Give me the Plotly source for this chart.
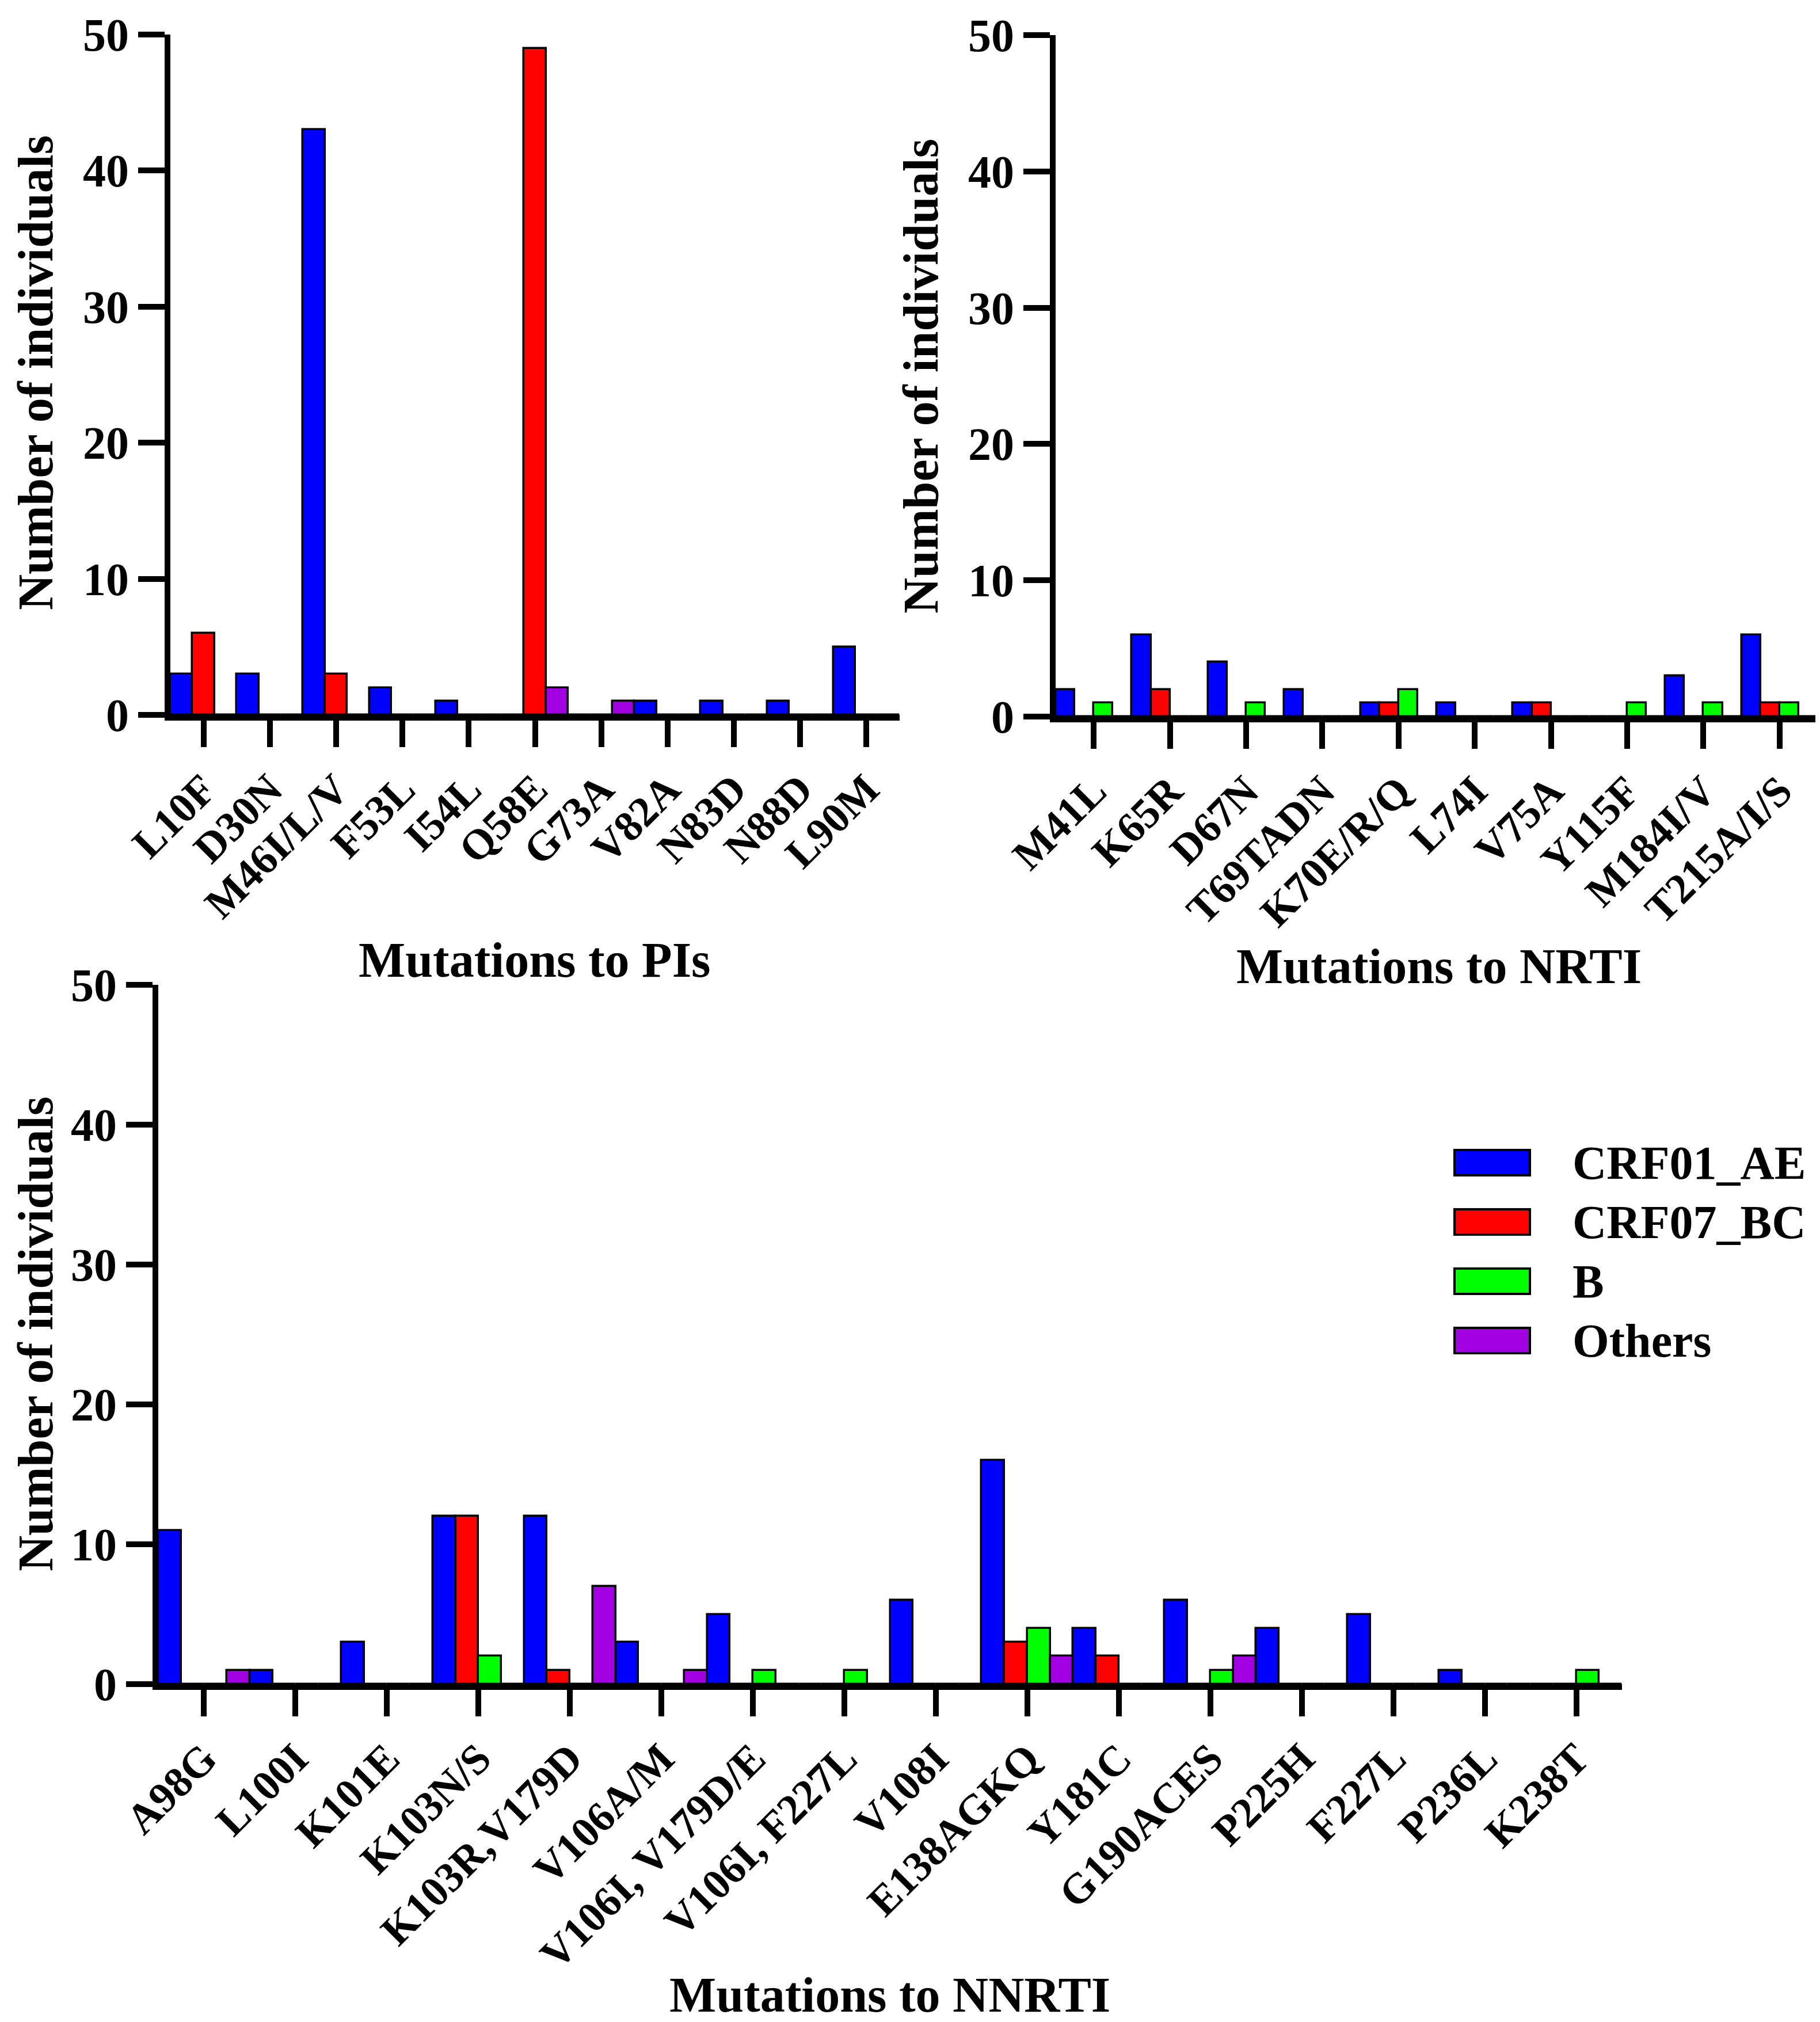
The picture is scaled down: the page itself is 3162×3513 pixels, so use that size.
import plotly.graph_objects as go

W, H = 3162, 3513
FONT = "Liberation Serif, Times New Roman, serif"

subtypes = ['CRF01_AE', 'CRF07_BC', 'B', 'Others']
colors = ['#0000FF', '#FF0000', '#00FF00', '#A100E0']

# Mutations to PIs
pi_mut = ['L10F', 'D30N', 'M46I/L/V', 'F53L', 'I54L', 'Q58E', 'G73A', 'V82A', 'N83D', 'N88D', 'L90M']
pi_crf01 = [3, 3, 43, 2, 1, 0, 0, 1, 1, 1, 5]
pi_crf07 = [6, 0, 3, 0, 0, 49, 0, 0, 0, 0, 0]
pi_others = [0, 0, 0, 0, 0, 2, 1, 0, 0, 0, 0]

# Mutations to NRTI
nrti_mut = ['M41L', 'K65R', 'D67N', 'T69TADN', 'K70E/R/Q', 'L74I', 'V75A', 'Y115F', 'M184I/V', 'T215A/I/S']
nrti_crf01 = [2, 6, 4, 2, 1, 1, 1, 0, 3, 6]
nrti_crf07 = [0, 2, 0, 0, 1, 0, 1, 0, 0, 1]
nrti_b = [1, 0, 1, 0, 2, 0, 0, 1, 1, 1]
nrti_others = [0, 0, 0, 0, 0, 0, 0, 0, 0, 0]

# Mutations to NNRTI
nnrti_mut = ['A98G', 'L100I', 'K101E', 'K103N/S', 'K103R,V179D', 'V106A/M', 'V106I, V179D/E',
             'V106I, F227L', 'V108I', 'E138AGKQ', 'Y181C', 'G190ACES', 'P225H', 'F227L', 'P236L', 'K238T']
nnrti_crf01 = [11, 1, 3, 12, 12, 3, 5, 0, 6, 16, 4, 6, 4, 5, 1, 0]
nnrti_crf07 = [0, 0, 0, 12, 1, 0, 0, 0, 0, 3, 2, 0, 0, 0, 0, 0]
nnrti_b = [0, 0, 0, 2, 0, 0, 1, 1, 0, 4, 0, 1, 0, 0, 0, 1]
nnrti_others = [1, 0, 0, 0, 7, 1, 0, 0, 0, 2, 0, 2, 0, 0, 0, 0]


def fx(p):
    return p / W


def fy(p):
    return 1 - p / H


fig = go.Figure()

panels = [
    ('x', 'y', pi_mut, [(0, pi_crf01), (1, pi_crf07), (3, pi_others)]),
    ('x2', 'y2', nrti_mut, [(0, nrti_crf01), (1, nrti_crf07), (2, nrti_b), (3, nrti_others)]),
    ('x3', 'y3', nnrti_mut, [(0, nnrti_crf01), (1, nnrti_crf07), (2, nnrti_b), (3, nnrti_others)]),
]
for xa, ya, cats, series in panels:
    for k, vals in series:
        fig.add_trace(go.Bar(x=cats, y=vals, name=subtypes[k], xaxis=xa, yaxis=ya,
                             marker=dict(color=colors[k], line=dict(color='black', width=3.5)),
                             showlegend=False))

common = dict(showline=True, linecolor='black', linewidth=10, ticks='outside', ticklen=46,
              tickwidth=10, tickcolor='black', showgrid=False, ticklabeloverflow='allow',
              zeroline=False, automargin=False, fixedrange=True)
xfont = dict(family=FONT, size=74, color='black', weight='bold')
yfont = dict(family=FONT, size=80, color='black', weight='bold')

# pixel boxes of the three plot areas: (left, right, y of 0, y of 50)
boxes = [(288, 1555, 1234, 52), (1826, 3150, 1237, 53), (267, 2810, 2918, 1703)]
cat_lists = [pi_mut, nrti_mut, nnrti_mut]
for i, ((l, r, b, t), cats) in enumerate(zip(boxes, cat_lists)):
    sfx = '' if i == 0 else str(i + 1)
    fig.update_layout(**{
        'xaxis' + sfx: dict(common, domain=[fx(l), fx(r)], anchor='y' + sfx, type='category',
                            range=[-0.5, len(cats) - 0.5], tickangle=-45, tickfont=xfont),
        'yaxis' + sfx: dict(common, domain=[fy(b), fy(t)], anchor='x' + sfx, range=[0, 50],
                            tickvals=[0, 10, 20, 30, 40, 50], tickfont=yfont),
    })

annos = []
# y titles
for xp, yp in [(54, 640), (1592, 645), (54, 2310)]:
    annos.append(dict(text='<b>Number of individuals</b>', x=fx(xp), y=fy(yp), xref='paper', yref='paper',
                      xanchor='center', yanchor='middle', textangle=-90, showarrow=False,
                      font=dict(family=FONT, size=86, color='black')))
# x titles
for txt, xp, yp in [('Mutations to PIs', 921, 1660), ('Mutations to NRTI', 2492, 1671),
                    ('Mutations to NNRTI', 1538, 3458)]:
    annos.append(dict(text='<b>' + txt + '</b>', x=fx(xp), y=fy(yp), xref='paper', yref='paper',
                      xanchor='center', yanchor='middle', showarrow=False,
                      font=dict(family=FONT, size=86, color='black')))

# legend key
shapes = []
for i, (name, col) in enumerate(zip(subtypes, colors)):
    yc = 2012 + i * 103
    shapes.append(dict(type='rect', xref='paper', yref='paper', x0=fx(2519), x1=fx(2650),
                       y0=fy(yc + 22), y1=fy(yc - 22), fillcolor=col, line=dict(color='black', width=4)))
    annos.append(dict(text='<b>' + name + '</b>', x=fx(2722), y=fy(yc), xref='paper', yref='paper',
                      xanchor='left', yanchor='middle', showarrow=False,
                      font=dict(family=FONT, size=82, color='black')))

fig.update_layout(width=W, height=H, margin=dict(l=0, r=0, t=0, b=0),
                  paper_bgcolor='white', plot_bgcolor='white',
                  barmode='group', bargap=0, bargroupgap=0,
                  annotations=annos, shapes=shapes,
                  font=dict(family=FONT, color='black'))

fig.write_html("out.html")
